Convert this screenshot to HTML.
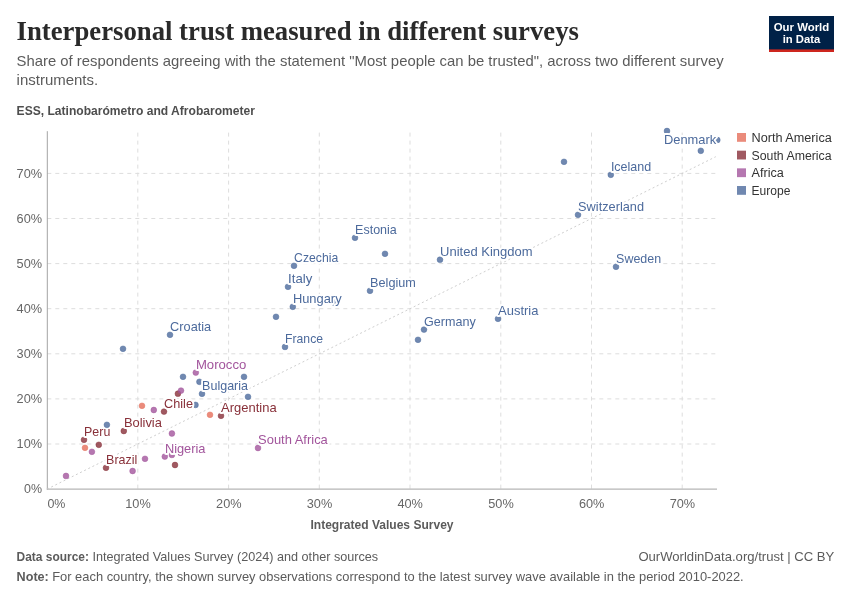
<!DOCTYPE html>
<html lang="en"><head><meta charset="utf-8"><title>Interpersonal trust measured in different surveys</title>
<style>
html,body{margin:0;padding:0;background:#fff;}
body{width:850px;height:600px;overflow:hidden;}
svg{display:block;}
text{font-family:"Liberation Sans",sans-serif;}
text.serif{font-family:"Liberation Serif",serif;}
text.halo{paint-order:stroke fill;stroke:#fff;stroke-width:3.8px;stroke-linejoin:round;}
.grid{stroke:#dddddd;stroke-width:1;stroke-dasharray:4 4;fill:none;}
.axis{stroke:#a3a3a3;stroke-width:1;fill:none;}
</style></head><body>
<svg width="850" height="600" viewBox="0 0 850 600">
<rect x="0" y="0" width="850" height="600" fill="#ffffff"/>
<g><rect x="769" y="16" width="65" height="36" fill="#002147"/><rect x="769" y="49.4" width="65" height="2.6" fill="#ce261e"/></g>
<g class="grid">
<line x1="47.3" y1="444.0" x2="717.0" y2="444.0"/>
<line x1="47.3" y1="398.9" x2="717.0" y2="398.9"/>
<line x1="47.3" y1="353.8" x2="717.0" y2="353.8"/>
<line x1="47.3" y1="308.7" x2="717.0" y2="308.7"/>
<line x1="47.3" y1="263.6" x2="717.0" y2="263.6"/>
<line x1="47.3" y1="218.5" x2="717.0" y2="218.5"/>
<line x1="47.3" y1="173.4" x2="717.0" y2="173.4"/>
<line x1="137.8" y1="132.6" x2="137.8" y2="489.1"/>
<line x1="228.6" y1="132.6" x2="228.6" y2="489.1"/>
<line x1="319.3" y1="132.6" x2="319.3" y2="489.1"/>
<line x1="410.0" y1="132.6" x2="410.0" y2="489.1"/>
<line x1="500.8" y1="132.6" x2="500.8" y2="489.1"/>
<line x1="591.5" y1="132.6" x2="591.5" y2="489.1"/>
<line x1="682.2" y1="132.6" x2="682.2" y2="489.1"/>
</g>
<line class="axis" x1="47.3" y1="131.2" x2="47.3" y2="489.6"/>
<line class="axis" x1="46.8" y1="489.1" x2="717.0" y2="489.1"/>
<line x1="47.1" y1="489.1" x2="715.8" y2="156.7" stroke="#cfcfcf" stroke-width="1" stroke-dasharray="2 2.6"/>
<g stroke-width="0.5">
<circle cx="243.3" cy="365.6" r="2.9" fill="#4C6A9C" fill-opacity="0.8" stroke="#4C6A9C" stroke-opacity="0.9"/>
<circle cx="123.0" cy="348.8" r="2.9" fill="#4C6A9C" fill-opacity="0.8" stroke="#4C6A9C" stroke-opacity="0.9"/>
<circle cx="170.0" cy="334.8" r="2.9" fill="#4C6A9C" fill-opacity="0.8" stroke="#4C6A9C" stroke-opacity="0.9"/>
<circle cx="183.0" cy="376.8" r="2.9" fill="#4C6A9C" fill-opacity="0.8" stroke="#4C6A9C" stroke-opacity="0.9"/>
<circle cx="199.4" cy="381.8" r="2.9" fill="#4C6A9C" fill-opacity="0.8" stroke="#4C6A9C" stroke-opacity="0.9"/>
<circle cx="202.0" cy="393.8" r="2.9" fill="#4C6A9C" fill-opacity="0.8" stroke="#4C6A9C" stroke-opacity="0.9"/>
<circle cx="195.5" cy="404.9" r="2.9" fill="#4C6A9C" fill-opacity="0.8" stroke="#4C6A9C" stroke-opacity="0.9"/>
<circle cx="244.0" cy="376.8" r="2.9" fill="#4C6A9C" fill-opacity="0.8" stroke="#4C6A9C" stroke-opacity="0.9"/>
<circle cx="248.0" cy="396.8" r="2.9" fill="#4C6A9C" fill-opacity="0.8" stroke="#4C6A9C" stroke-opacity="0.9"/>
<circle cx="285.0" cy="346.9" r="2.9" fill="#4C6A9C" fill-opacity="0.8" stroke="#4C6A9C" stroke-opacity="0.9"/>
<circle cx="276.0" cy="316.8" r="2.9" fill="#4C6A9C" fill-opacity="0.8" stroke="#4C6A9C" stroke-opacity="0.9"/>
<circle cx="292.8" cy="306.8" r="2.9" fill="#4C6A9C" fill-opacity="0.8" stroke="#4C6A9C" stroke-opacity="0.9"/>
<circle cx="288.0" cy="286.8" r="2.9" fill="#4C6A9C" fill-opacity="0.8" stroke="#4C6A9C" stroke-opacity="0.9"/>
<circle cx="294.0" cy="265.8" r="2.9" fill="#4C6A9C" fill-opacity="0.8" stroke="#4C6A9C" stroke-opacity="0.9"/>
<circle cx="334.0" cy="302.5" r="2.9" fill="#4C6A9C" fill-opacity="0.8" stroke="#4C6A9C" stroke-opacity="0.9"/>
<circle cx="355.0" cy="237.8" r="2.9" fill="#4C6A9C" fill-opacity="0.8" stroke="#4C6A9C" stroke-opacity="0.9"/>
<circle cx="385.0" cy="253.8" r="2.9" fill="#4C6A9C" fill-opacity="0.8" stroke="#4C6A9C" stroke-opacity="0.9"/>
<circle cx="370.0" cy="290.8" r="2.9" fill="#4C6A9C" fill-opacity="0.8" stroke="#4C6A9C" stroke-opacity="0.9"/>
<circle cx="440.0" cy="259.7" r="2.9" fill="#4C6A9C" fill-opacity="0.8" stroke="#4C6A9C" stroke-opacity="0.9"/>
<circle cx="424.0" cy="329.6" r="2.9" fill="#4C6A9C" fill-opacity="0.8" stroke="#4C6A9C" stroke-opacity="0.9"/>
<circle cx="418.0" cy="339.8" r="2.9" fill="#4C6A9C" fill-opacity="0.8" stroke="#4C6A9C" stroke-opacity="0.9"/>
<circle cx="498.0" cy="318.8" r="2.9" fill="#4C6A9C" fill-opacity="0.8" stroke="#4C6A9C" stroke-opacity="0.9"/>
<circle cx="564.0" cy="161.8" r="2.9" fill="#4C6A9C" fill-opacity="0.8" stroke="#4C6A9C" stroke-opacity="0.9"/>
<circle cx="610.8" cy="174.8" r="2.9" fill="#4C6A9C" fill-opacity="0.8" stroke="#4C6A9C" stroke-opacity="0.9"/>
<circle cx="578.0" cy="214.8" r="2.9" fill="#4C6A9C" fill-opacity="0.8" stroke="#4C6A9C" stroke-opacity="0.9"/>
<circle cx="616.0" cy="266.8" r="2.9" fill="#4C6A9C" fill-opacity="0.8" stroke="#4C6A9C" stroke-opacity="0.9"/>
<circle cx="667.0" cy="131.0" r="2.9" fill="#4C6A9C" fill-opacity="0.8" stroke="#4C6A9C" stroke-opacity="0.9"/>
<circle cx="700.8" cy="150.8" r="2.9" fill="#4C6A9C" fill-opacity="0.8" stroke="#4C6A9C" stroke-opacity="0.9"/>
<circle cx="717.3" cy="140.0" r="2.9" fill="#4C6A9C" fill-opacity="0.8" stroke="#4C6A9C" stroke-opacity="0.9"/>
<circle cx="106.0" cy="467.8" r="2.9" fill="#883039" fill-opacity="0.8" stroke="#883039" stroke-opacity="0.9"/>
<circle cx="175.0" cy="465.0" r="2.9" fill="#883039" fill-opacity="0.8" stroke="#883039" stroke-opacity="0.9"/>
<circle cx="98.8" cy="444.8" r="2.9" fill="#883039" fill-opacity="0.8" stroke="#883039" stroke-opacity="0.9"/>
<circle cx="84.0" cy="439.8" r="2.9" fill="#883039" fill-opacity="0.8" stroke="#883039" stroke-opacity="0.9"/>
<circle cx="123.8" cy="431.0" r="2.9" fill="#883039" fill-opacity="0.8" stroke="#883039" stroke-opacity="0.9"/>
<circle cx="164.0" cy="411.6" r="2.9" fill="#883039" fill-opacity="0.8" stroke="#883039" stroke-opacity="0.9"/>
<circle cx="177.9" cy="393.7" r="2.9" fill="#883039" fill-opacity="0.8" stroke="#883039" stroke-opacity="0.9"/>
<circle cx="221.0" cy="415.8" r="2.9" fill="#883039" fill-opacity="0.8" stroke="#883039" stroke-opacity="0.9"/>
<circle cx="85.0" cy="447.8" r="2.9" fill="#E56E5A" fill-opacity="0.8" stroke="#E56E5A" stroke-opacity="0.9"/>
<circle cx="142.0" cy="405.8" r="2.9" fill="#E56E5A" fill-opacity="0.8" stroke="#E56E5A" stroke-opacity="0.9"/>
<circle cx="210.0" cy="414.8" r="2.9" fill="#E56E5A" fill-opacity="0.8" stroke="#E56E5A" stroke-opacity="0.9"/>
<circle cx="66.0" cy="475.9" r="2.9" fill="#A2559C" fill-opacity="0.8" stroke="#A2559C" stroke-opacity="0.9"/>
<circle cx="91.9" cy="451.8" r="2.9" fill="#A2559C" fill-opacity="0.8" stroke="#A2559C" stroke-opacity="0.9"/>
<circle cx="132.6" cy="471.0" r="2.9" fill="#A2559C" fill-opacity="0.8" stroke="#A2559C" stroke-opacity="0.9"/>
<circle cx="145.0" cy="458.8" r="2.9" fill="#A2559C" fill-opacity="0.8" stroke="#A2559C" stroke-opacity="0.9"/>
<circle cx="164.8" cy="456.6" r="2.9" fill="#A2559C" fill-opacity="0.8" stroke="#A2559C" stroke-opacity="0.9"/>
<circle cx="171.9" cy="454.9" r="2.9" fill="#A2559C" fill-opacity="0.8" stroke="#A2559C" stroke-opacity="0.9"/>
<circle cx="171.9" cy="433.5" r="2.9" fill="#A2559C" fill-opacity="0.8" stroke="#A2559C" stroke-opacity="0.9"/>
<circle cx="153.8" cy="410.0" r="2.9" fill="#A2559C" fill-opacity="0.8" stroke="#A2559C" stroke-opacity="0.9"/>
<circle cx="181.0" cy="390.6" r="2.9" fill="#A2559C" fill-opacity="0.8" stroke="#A2559C" stroke-opacity="0.9"/>
<circle cx="195.8" cy="372.6" r="2.9" fill="#A2559C" fill-opacity="0.8" stroke="#A2559C" stroke-opacity="0.9"/>
<circle cx="258.0" cy="448.0" r="2.9" fill="#A2559C" fill-opacity="0.8" stroke="#A2559C" stroke-opacity="0.9"/>
</g>
<rect x="737" y="133.00" width="9" height="8.8" fill="#E56E5A" fill-opacity="0.8"/>
<rect x="737" y="150.67" width="9" height="8.8" fill="#883039" fill-opacity="0.8"/>
<rect x="737" y="168.34" width="9" height="8.8" fill="#A2559C" fill-opacity="0.8"/>
<rect x="737" y="186.01" width="9" height="8.8" fill="#4C6A9C" fill-opacity="0.8"/>
<text class="serif" x="16.6" y="40.0" font-size="27" font-weight="700" fill="#2a2a2a" textLength="562.3" lengthAdjust="spacingAndGlyphs">Interpersonal trust measured in different surveys</text>
<text x="16.6" y="66.0" font-size="15" fill="#5b5b5b" textLength="707.0" lengthAdjust="spacingAndGlyphs">Share of respondents agreeing with the statement "Most people can be trusted", across two different survey</text>
<text x="16.6" y="85.0" font-size="15" fill="#5b5b5b" textLength="81.6" lengthAdjust="spacingAndGlyphs">instruments.</text>
<text x="16.6" y="115.4" font-size="13" font-weight="700" fill="#4e4e4e" textLength="238.4" lengthAdjust="spacingAndGlyphs">ESS, Latinobarómetro and Afrobarometer</text>
<text x="42.1" y="493.0" font-size="13" text-anchor="end" fill="#666666" textLength="18.0" lengthAdjust="spacingAndGlyphs">0%</text>
<text x="42.1" y="448.0" font-size="13" text-anchor="end" fill="#666666" textLength="25.5" lengthAdjust="spacingAndGlyphs">10%</text>
<text x="42.1" y="403.0" font-size="13" text-anchor="end" fill="#666666" textLength="25.5" lengthAdjust="spacingAndGlyphs">20%</text>
<text x="42.1" y="358.0" font-size="13" text-anchor="end" fill="#666666" textLength="25.5" lengthAdjust="spacingAndGlyphs">30%</text>
<text x="42.1" y="313.0" font-size="13" text-anchor="end" fill="#666666" textLength="25.5" lengthAdjust="spacingAndGlyphs">40%</text>
<text x="42.1" y="268.0" font-size="13" text-anchor="end" fill="#666666" textLength="25.5" lengthAdjust="spacingAndGlyphs">50%</text>
<text x="42.1" y="223.0" font-size="13" text-anchor="end" fill="#666666" textLength="25.5" lengthAdjust="spacingAndGlyphs">60%</text>
<text x="42.1" y="178.0" font-size="13" text-anchor="end" fill="#666666" textLength="25.5" lengthAdjust="spacingAndGlyphs">70%</text>
<text x="47.4" y="508.0" font-size="13" fill="#666666" textLength="18.0" lengthAdjust="spacingAndGlyphs">0%</text>
<text x="138.0" y="508.0" font-size="13" text-anchor="middle" fill="#666666" textLength="25.5" lengthAdjust="spacingAndGlyphs">10%</text>
<text x="228.8" y="508.0" font-size="13" text-anchor="middle" fill="#666666" textLength="25.5" lengthAdjust="spacingAndGlyphs">20%</text>
<text x="319.5" y="508.0" font-size="13" text-anchor="middle" fill="#666666" textLength="25.5" lengthAdjust="spacingAndGlyphs">30%</text>
<text x="410.2" y="508.0" font-size="13" text-anchor="middle" fill="#666666" textLength="25.5" lengthAdjust="spacingAndGlyphs">40%</text>
<text x="501.0" y="508.0" font-size="13" text-anchor="middle" fill="#666666" textLength="25.5" lengthAdjust="spacingAndGlyphs">50%</text>
<text x="591.7" y="508.0" font-size="13" text-anchor="middle" fill="#666666" textLength="25.5" lengthAdjust="spacingAndGlyphs">60%</text>
<text x="682.4" y="508.0" font-size="13" text-anchor="middle" fill="#666666" textLength="25.5" lengthAdjust="spacingAndGlyphs">70%</text>
<text x="382.0" y="529.0" font-size="13" font-weight="700" text-anchor="middle" fill="#5b5b5b" textLength="143.1" lengthAdjust="spacingAndGlyphs">Integrated Values Survey</text>
<text x="751.5" y="142.0" font-size="12.5" fill="#333333" textLength="80.3" lengthAdjust="spacingAndGlyphs">North America</text>
<text x="751.5" y="160.0" font-size="12.5" fill="#333333" textLength="80.1" lengthAdjust="spacingAndGlyphs">South America</text>
<text x="751.5" y="177.0" font-size="12.5" fill="#333333" textLength="32.3" lengthAdjust="spacingAndGlyphs">Africa</text>
<text x="751.5" y="195.0" font-size="12.5" fill="#333333" textLength="38.9" lengthAdjust="spacingAndGlyphs">Europe</text>
<text x="16.6" y="560.7" font-size="13" font-weight="700" fill="#5b5b5b" textLength="72.4" lengthAdjust="spacingAndGlyphs">Data source:</text>
<text x="16.6" y="581.0" font-size="13" font-weight="700" fill="#5b5b5b" textLength="32.2" lengthAdjust="spacingAndGlyphs">Note:</text>
<text x="834.3" y="560.7" font-size="13" text-anchor="end" fill="#5b5b5b" textLength="195.9" lengthAdjust="spacingAndGlyphs">OurWorldinData.org/trust | CC BY</text>
<text x="801.5" y="31.0" font-size="11.8" font-weight="700" text-anchor="middle" fill="#ffffff" textLength="55.5" lengthAdjust="spacingAndGlyphs">Our World</text>
<text x="801.5" y="43.0" font-size="11.8" font-weight="700" text-anchor="middle" fill="#ffffff" textLength="37.6" lengthAdjust="spacingAndGlyphs">in Data</text>
<text class="halo" x="84.1" y="436.0" font-size="12.95" fill="#883039" textLength="26.2" lengthAdjust="spacingAndGlyphs">Peru</text>
<text class="halo" x="123.9" y="427.0" font-size="12.95" fill="#883039" textLength="38.0" lengthAdjust="spacingAndGlyphs">Bolivia</text>
<text class="halo" x="164.1" y="408.0" font-size="12.95" fill="#883039" textLength="28.9" lengthAdjust="spacingAndGlyphs">Chile</text>
<text class="halo" x="106.1" y="464.0" font-size="12.95" fill="#883039" textLength="31.3" lengthAdjust="spacingAndGlyphs">Brazil</text>
<text class="halo" x="221.1" y="412.0" font-size="12.95" fill="#883039" textLength="55.5" lengthAdjust="spacingAndGlyphs">Argentina</text>
<text class="halo" x="164.9" y="453.0" font-size="12.95" fill="#A2559C" textLength="40.6" lengthAdjust="spacingAndGlyphs">Nigeria</text>
<text class="halo" x="195.9" y="369.0" font-size="12.95" fill="#A2559C" textLength="50.4" lengthAdjust="spacingAndGlyphs">Morocco</text>
<text class="halo" x="258.1" y="444.0" font-size="12.95" fill="#A2559C" textLength="69.7" lengthAdjust="spacingAndGlyphs">South Africa</text>
<text class="halo" x="202.1" y="390.0" font-size="12.95" fill="#4C6A9C" textLength="45.9" lengthAdjust="spacingAndGlyphs">Bulgaria</text>
<text class="halo" x="170.1" y="331.0" font-size="12.95" fill="#4C6A9C" textLength="41.1" lengthAdjust="spacingAndGlyphs">Croatia</text>
<text class="halo" x="294.1" y="262.0" font-size="12.95" fill="#4C6A9C" textLength="44.1" lengthAdjust="spacingAndGlyphs">Czechia</text>
<text class="halo" x="288.1" y="283.0" font-size="12.95" fill="#4C6A9C" textLength="24.2" lengthAdjust="spacingAndGlyphs">Italy</text>
<text class="halo" x="292.9" y="303.0" font-size="12.95" fill="#4C6A9C" textLength="48.7" lengthAdjust="spacingAndGlyphs">Hungary</text>
<text class="halo" x="285.1" y="343.0" font-size="12.95" fill="#4C6A9C" textLength="37.9" lengthAdjust="spacingAndGlyphs">France</text>
<text class="halo" x="355.1" y="234.0" font-size="12.95" fill="#4C6A9C" textLength="41.7" lengthAdjust="spacingAndGlyphs">Estonia</text>
<text class="halo" x="440.1" y="256.0" font-size="12.95" fill="#4C6A9C" textLength="92.4" lengthAdjust="spacingAndGlyphs">United Kingdom</text>
<text class="halo" x="370.1" y="287.0" font-size="12.95" fill="#4C6A9C" textLength="45.8" lengthAdjust="spacingAndGlyphs">Belgium</text>
<text class="halo" x="424.1" y="326.0" font-size="12.95" fill="#4C6A9C" textLength="51.7" lengthAdjust="spacingAndGlyphs">Germany</text>
<text class="halo" x="498.1" y="315.0" font-size="12.95" fill="#4C6A9C" textLength="40.3" lengthAdjust="spacingAndGlyphs">Austria</text>
<text class="halo" x="610.9" y="171.0" font-size="12.95" fill="#4C6A9C" textLength="40.3" lengthAdjust="spacingAndGlyphs">Iceland</text>
<text class="halo" x="578.1" y="211.0" font-size="12.95" fill="#4C6A9C" textLength="65.9" lengthAdjust="spacingAndGlyphs">Switzerland</text>
<text class="halo" x="616.1" y="263.0" font-size="12.95" fill="#4C6A9C" textLength="45.0" lengthAdjust="spacingAndGlyphs">Sweden</text>
<text class="halo" x="716.2" y="144.0" font-size="12.95" text-anchor="end" fill="#4C6A9C" textLength="52.2" lengthAdjust="spacingAndGlyphs">Denmark</text>
<text x="92.4" y="560.7" font-size="13" fill="#5b5b5b" textLength="285.8" lengthAdjust="spacingAndGlyphs">Integrated Values Survey (2024) and other sources</text>
<text x="52.2" y="581.0" font-size="13" fill="#5b5b5b" textLength="691.5" lengthAdjust="spacingAndGlyphs">For each country, the shown survey observations correspond to the latest survey wave available in the period 2010-2022.</text>
<circle cx="106.9" cy="424.8" r="2.9" fill="#4C6A9C" fill-opacity="0.8" stroke="#4C6A9C" stroke-opacity="0.9" stroke-width="0.5"/>
</svg></body></html>
